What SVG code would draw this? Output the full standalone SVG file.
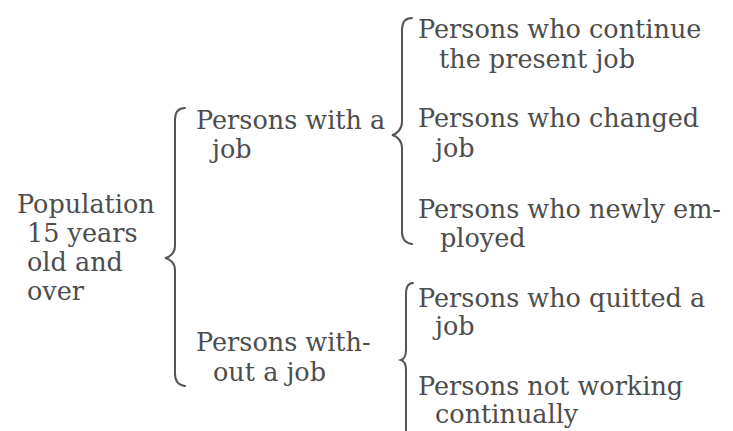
<svg xmlns="http://www.w3.org/2000/svg" width="733" height="431" viewBox="0 0 733 431">
<style>
  text { font-family: "DejaVu Serif", "Liberation Serif", serif; font-size: 25.5px; fill: #4d4d4d; }
  .brace { fill: none; stroke: #555; stroke-width: 2; stroke-linecap: round; }
</style>
<rect width="733" height="431" fill="#ffffff"/>
<g id="connectors">
  <path class="brace" d="M185,108 C178,108 175,112 175,120 L175,246 C175,253 170,257 165,258 C170,259 175,263 175,270 L175,374 C175,381 178,385 185,386"/>
  <path class="brace" d="M412,18 C405,18 402,22 402,30 L402,122 C402,129 397,134 392,135 C397,136 402,141 402,148 L402,232 C402,239 405,243 412,244"/>
  <path class="brace" d="M413,283 C408,283 406,287 406,294 L406,350 C406,355 404,359 401,360 C404,361 406,365 406,370 L406,431"/>
</g>
<g id="population">
  <text x="17" y="213">Population</text>
  <text x="27" y="242">15 years</text>
  <text x="27" y="271">old and</text>
  <text x="27" y="300">over</text>
</g>
<g id="with-job">
  <text x="196" y="129">Persons with a</text>
  <text x="212" y="158">job</text>
</g>
<g id="without-job">
  <text x="196" y="351">Persons with-</text>
  <text x="213" y="381">out a job</text>
</g>
<g id="continue">
  <text x="418" y="38">Persons who continue</text>
  <text x="439" y="68">the present job</text>
</g>
<g id="changed">
  <text x="418" y="127">Persons who changed</text>
  <text x="435" y="157">job</text>
</g>
<g id="newly">
  <text x="418" y="218">Persons who newly em-</text>
  <text x="440" y="247">ployed</text>
</g>
<g id="quitted">
  <text x="418" y="307">Persons who quitted a</text>
  <text x="435" y="335">job</text>
</g>
<g id="not-working">
  <text x="418" y="395">Persons not working</text>
  <text x="435" y="423">continually</text>
</g>
</svg>
